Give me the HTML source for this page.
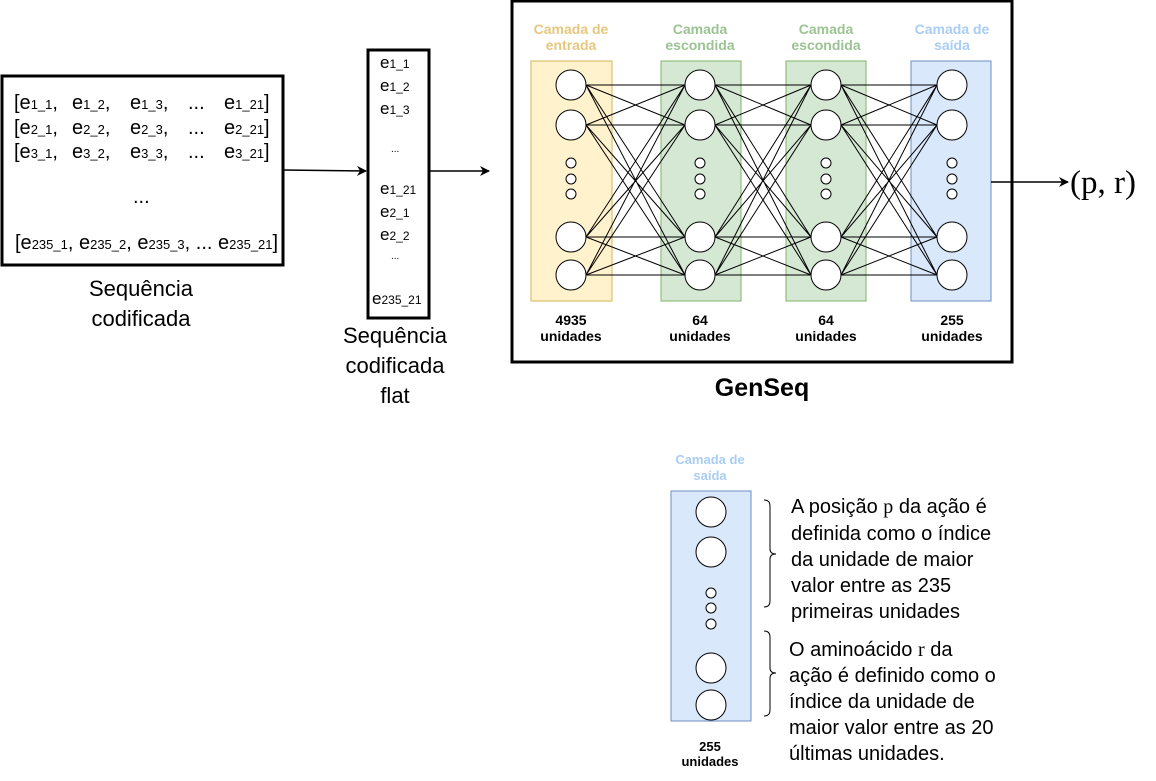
<!DOCTYPE html>
<html><head><meta charset="utf-8"><style>
body{margin:0;background:#fff;}
svg{display:block;font-family:"Liberation Sans",sans-serif;}
</style></head><body>
<svg width="1156" height="781" viewBox="0 0 1156 781" xmlns="http://www.w3.org/2000/svg">
<defs><marker id="ah" markerWidth="10" markerHeight="10" refX="9" refY="5" orient="auto" markerUnits="userSpaceOnUse"><path d="M0,0 L10,5 L0,10 L3,5 Z" fill="#000"/></marker></defs>
<rect x="2" y="76" width="281" height="189" fill="#fff" stroke="#000" stroke-width="3"/>
<g font-size="20" fill="#000">
<text x="14" y="109">[e<tspan font-size="13">1_1</tspan>,</text><text x="72" y="109">e<tspan font-size="13">1_2</tspan>,</text><text x="130" y="109">e<tspan font-size="13">1_3</tspan>,</text><text x="188" y="109">...</text><text x="224" y="109">e<tspan font-size="13">1_21</tspan>]</text>
<text x="14" y="134">[e<tspan font-size="13">2_1</tspan>,</text><text x="72" y="134">e<tspan font-size="13">2_2</tspan>,</text><text x="130" y="134">e<tspan font-size="13">2_3</tspan>,</text><text x="188" y="134">...</text><text x="224" y="134">e<tspan font-size="13">2_21</tspan>]</text>
<text x="14" y="158">[e<tspan font-size="13">3_1</tspan>,</text><text x="72" y="158">e<tspan font-size="13">3_2</tspan>,</text><text x="130" y="158">e<tspan font-size="13">3_3</tspan>,</text><text x="188" y="158">...</text><text x="224" y="158">e<tspan font-size="13">3_21</tspan>]</text>
<text x="133" y="203">...</text>
<text x="15" y="249">[e<tspan font-size="13">235_1</tspan>, e<tspan font-size="13">235_2</tspan>, e<tspan font-size="13">235_3</tspan>, ... e<tspan font-size="13">235_21</tspan>]</text>
</g>
<g font-size="22" text-anchor="middle"><text x="141" y="296">Sequência</text><text x="141" y="326">codificada</text>
<text x="395" y="343">Sequência</text><text x="395" y="373">codificada</text><text x="395" y="403">flat</text></g>
<rect x="368" y="50" width="61" height="268" fill="#fff" stroke="#000" stroke-width="3"/>
<g font-size="17" fill="#000">
<text x="380" y="68">e<tspan font-size="12">1_1</tspan></text>
<text x="380" y="91">e<tspan font-size="12">1_2</tspan></text>
<text x="380" y="114">e<tspan font-size="12">1_3</tspan></text>
<text x="391" y="152" font-size="10">...</text>
<text x="380" y="194">e<tspan font-size="12">1_21</tspan></text>
<text x="380" y="217">e<tspan font-size="12">2_1</tspan></text>
<text x="380" y="240">e<tspan font-size="12">2_2</tspan></text>
<text x="391" y="259" font-size="10">...</text>
<text x="372" y="304">e<tspan font-size="12">235_21</tspan></text>
</g>
<line x1="283" y1="170" x2="366" y2="171" stroke="#000" stroke-width="1.5" marker-end="url(#ah)"/>
<line x1="430" y1="171" x2="489" y2="171" stroke="#000" stroke-width="1.5" marker-end="url(#ah)"/>
<rect x="512" y="1" width="500" height="361" fill="#fff" stroke="#000" stroke-width="3"/>
<rect x="531" y="61" width="81" height="240" fill="#fff2cc" stroke="#d6b656"/>
<rect x="661" y="61" width="80" height="240" fill="#d5e8d4" stroke="#82b366"/>
<rect x="786" y="61" width="80" height="240" fill="#d5e8d4" stroke="#82b366"/>
<rect x="911" y="61" width="80" height="240" fill="#dae8fc" stroke="#6c8ebf"/>
<g font-size="14" font-weight="bold" text-anchor="middle">
<text x="571" y="34" fill="#e6c77e">Camada de</text><text x="571" y="50" fill="#e6c77e">entrada</text>
<text x="700" y="34" fill="#9cc393">Camada</text><text x="700" y="50" fill="#9cc393">escondida</text>
<text x="826" y="34" fill="#9cc393">Camada</text><text x="826" y="50" fill="#9cc393">escondida</text>
<text x="952" y="34" fill="#a9cdf5">Camada de</text><text x="952" y="50" fill="#a9cdf5">saída</text>
<text x="571" y="325" fill="#000">4935</text><text x="571" y="341" fill="#000">unidades</text>
<text x="700" y="325" fill="#000">64</text><text x="700" y="341" fill="#000">unidades</text>
<text x="826" y="325" fill="#000">64</text><text x="826" y="341" fill="#000">unidades</text>
<text x="952" y="325" fill="#000">255</text><text x="952" y="341" fill="#000">unidades</text>
</g>
<g stroke="#000" stroke-width="1">
<path d="M586 85L685 85M586 85L685 125M586 85L685 237M586 85L685 275M586 125L685 85M586 125L685 125M586 125L685 237M586 125L685 275M586 237L685 85M586 237L685 125M586 237L685 237M586 237L685 275M586 275L685 85M586 275L685 125M586 275L685 237M586 275L685 275"/>
<path d="M715 85L811 85M715 85L811 125M715 85L811 237M715 85L811 275M715 125L811 85M715 125L811 125M715 125L811 237M715 125L811 275M715 237L811 85M715 237L811 125M715 237L811 237M715 237L811 275M715 275L811 85M715 275L811 125M715 275L811 237M715 275L811 275"/>
<path d="M841 85L937 85M841 85L937 125M841 85L937 237M841 85L937 275M841 125L937 85M841 125L937 125M841 125L937 237M841 125L937 275M841 237L937 85M841 237L937 125M841 237L937 237M841 237L937 275M841 275L937 85M841 275L937 125M841 275L937 237M841 275L937 275"/>
</g>
<g fill="#fff" stroke="#000" stroke-width="1">
<circle cx="571" cy="85" r="15"/><circle cx="571" cy="125" r="15"/><circle cx="571" cy="237" r="15"/><circle cx="571" cy="275" r="15"/>
<circle cx="571" cy="163" r="5"/><circle cx="571" cy="179" r="5"/><circle cx="571" cy="194" r="5"/>
<circle cx="700" cy="85" r="15"/><circle cx="700" cy="125" r="15"/><circle cx="700" cy="237" r="15"/><circle cx="700" cy="275" r="15"/>
<circle cx="700" cy="163" r="5"/><circle cx="700" cy="179" r="5"/><circle cx="700" cy="194" r="5"/>
<circle cx="826" cy="85" r="15"/><circle cx="826" cy="125" r="15"/><circle cx="826" cy="237" r="15"/><circle cx="826" cy="275" r="15"/>
<circle cx="826" cy="163" r="5"/><circle cx="826" cy="179" r="5"/><circle cx="826" cy="194" r="5"/>
<circle cx="952" cy="85" r="15"/><circle cx="952" cy="125" r="15"/><circle cx="952" cy="237" r="15"/><circle cx="952" cy="275" r="15"/>
<circle cx="952" cy="163" r="5"/><circle cx="952" cy="179" r="5"/><circle cx="952" cy="194" r="5"/>
</g>
<line x1="991" y1="182" x2="1068" y2="182" stroke="#000" stroke-width="1.5" marker-end="url(#ah)"/>
<text x="1070" y="193" font-family="'Liberation Serif',serif" font-size="33">(p, r)</text>
<text x="762" y="396" font-size="25" font-weight="bold" text-anchor="middle">GenSeq</text>
<rect x="671" y="491" width="80" height="230" fill="#dae8fc" stroke="#6c8ebf"/>
<g font-size="13" font-weight="bold" text-anchor="middle">
<text x="710" y="464" fill="#a9cdf5">Camada de</text><text x="710" y="480" fill="#a9cdf5">saída</text>
<text x="710" y="751">255</text><text x="710" y="766">unidades</text></g>
<g fill="#fff" stroke="#000" stroke-width="1">
<circle cx="711" cy="512" r="15"/><circle cx="711" cy="552" r="15"/><circle cx="711" cy="668" r="15"/><circle cx="711" cy="705" r="15"/>
<circle cx="711" cy="593" r="5"/><circle cx="711" cy="608" r="5"/><circle cx="711" cy="624" r="5"/>
</g>
<g fill="none" stroke="#000" stroke-width="1">
<path d="M764 500 Q770 500 770 506 L770 549 Q770 554 776 554 Q770 554 770 559 L770 601 Q770 607 764 607"/>
<path d="M764 631 Q770 631 770 637 L770 668 Q770 673 776 673 Q770 673 770 678 L770 710 Q770 716 764 716"/>
</g>
<g font-size="20">
<text x="791" y="513">A posição <tspan font-family="'Liberation Serif',serif">p</tspan> da ação é</text>
<text x="791" y="540">definida como o índice</text>
<text x="791" y="566">da unidade de maior</text>
<text x="791" y="592">valor entre as 235</text>
<text x="791" y="618">primeiras unidades</text>
<text x="789" y="656">O aminoácido <tspan font-family="'Liberation Serif',serif">r</tspan> da</text>
<text x="789" y="682">ação é definido como o</text>
<text x="789" y="708">índice da unidade de</text>
<text x="789" y="734">maior valor entre as 20</text>
<text x="789" y="760">últimas unidades.</text>
</g>
</svg>
</body></html>
